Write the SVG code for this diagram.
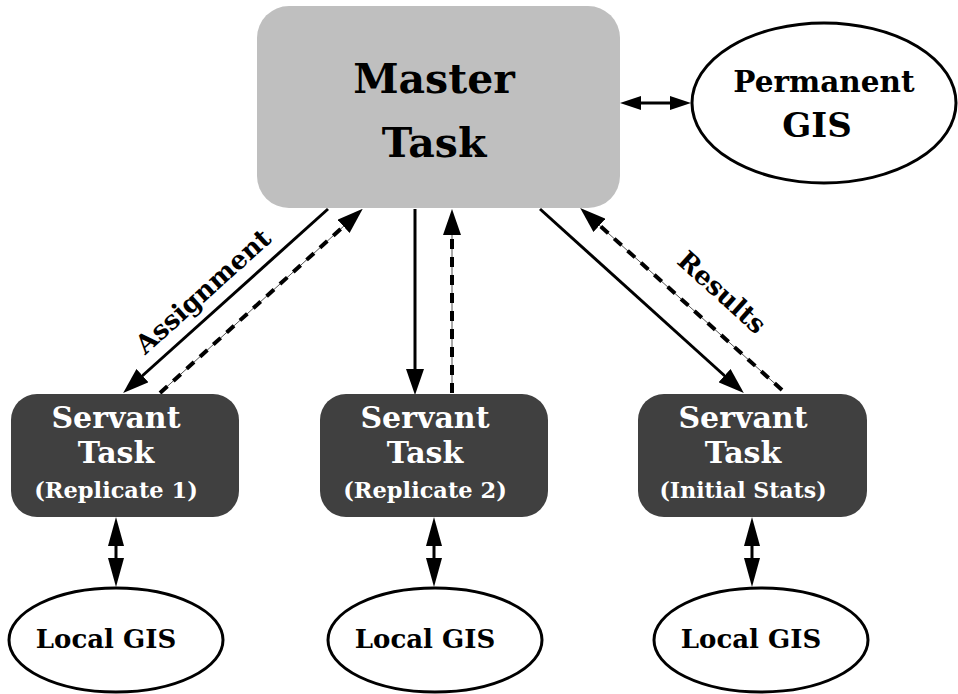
<svg xmlns="http://www.w3.org/2000/svg" width="958" height="694" viewBox="0 0 958 694">
  <style>
    text { font-family: "DejaVu Serif", "Liberation Serif", serif; font-weight: bold; text-anchor: middle; }
    .master { fill: #bfbfbf; }
    .servant { fill: #404040; }
    .store { fill: #ffffff; stroke: #000000; stroke-width: 3; }
    .light { fill: #ffffff; }
    .dark { fill: #000000; }
    .solid { stroke: #000000; stroke-width: 3; fill: none; }
    .core { stroke: #555555; stroke-width: 1; fill: none; }
    .dash { stroke: #000000; stroke-width: 4; stroke-dasharray: 10 8; fill: none; }
  </style>
  <defs>
    <!-- large head for task-to-task links -->
    <marker id="head" markerUnits="userSpaceOnUse" viewBox="0 0 26 18" markerWidth="26" markerHeight="18" refX="2" refY="9" orient="auto">
      <path d="M0,0 L26,9 L0,18 z" fill="#000"/>
    </marker>
    <!-- head for task-to-GIS links -->
    <marker id="headV" markerUnits="userSpaceOnUse" viewBox="0 0 29 16" markerWidth="29" markerHeight="16" refX="2" refY="8" orient="auto-start-reverse">
      <path d="M0,0 L29,8 L0,16 z" fill="#000"/>
    </marker>
    <!-- head for master-to-permanent link -->
    <marker id="headS" markerUnits="userSpaceOnUse" viewBox="0 0 21 14" markerWidth="21" markerHeight="14" refX="2" refY="7" orient="auto-start-reverse">
      <path d="M0,0 L21,7 L0,14 z" fill="#000"/>
    </marker>
  </defs>

  <g id="connectors">
    <!-- master <-> permanent GIS -->
    <line class="solid" x1="639" y1="103" x2="672" y2="103" marker-start="url(#headS)" marker-end="url(#headS)"/>

    <!-- assignment to replicate 1 -->
    <line class="solid" x1="328" y1="209" x2="141" y2="377" marker-end="url(#head)"/>
    <line class="core" x1="160" y1="393" x2="345" y2="225"/>
    <line class="dash" x1="160" y1="393" x2="345" y2="225" marker-end="url(#head)"/>

    <!-- replicate 2 -->
    <line class="solid" x1="415" y1="209" x2="415" y2="371" marker-end="url(#head)"/>
    <line class="core" x1="452" y1="393" x2="452" y2="233"/>
    <line class="dash" x1="452" y1="393" x2="452" y2="233" marker-end="url(#head)"/>

    <!-- initial stats / results -->
    <line class="solid" x1="540" y1="209" x2="726" y2="377" marker-end="url(#head)"/>
    <line class="core" x1="782" y1="390" x2="598" y2="224"/>
    <line class="dash" x1="782" y1="390" x2="598" y2="224" marker-end="url(#head)"/>

    <!-- servants <-> local GIS -->
    <line class="solid" x1="116" y1="544" x2="116" y2="560" marker-start="url(#headV)" marker-end="url(#headV)"/>
    <line class="solid" x1="434" y1="544" x2="434" y2="560" marker-start="url(#headV)" marker-end="url(#headV)"/>
    <line class="solid" x1="752" y1="544" x2="752" y2="560" marker-start="url(#headV)" marker-end="url(#headV)"/>

    <text class="dark" font-size="26" transform="translate(209,298) rotate(-42)">Assignment</text>
    <text class="dark" font-size="26" transform="translate(716,299) rotate(42)">Results</text>
  </g>

  <g id="master-task">
    <rect class="master" x="257" y="6" width="363" height="202" rx="32" ry="32"/>
    <text class="dark" x="434" y="93" font-size="41">Master</text>
    <text class="dark" x="434" y="157" font-size="41">Task</text>
  </g>

  <g id="permanent-gis">
    <ellipse class="store" cx="824" cy="103" rx="132" ry="80"/>
    <text class="dark" x="824" y="92" font-size="29.5">Permanent</text>
    <text class="dark" x="817" y="137" font-size="34">GIS</text>
  </g>

  <g id="servant-1">
    <rect class="servant" x="11" y="394" width="228" height="123" rx="26" ry="26"/>
    <text class="light" x="116" y="428" font-size="30">Servant</text>
    <text class="light" x="116" y="463" font-size="30">Task</text>
    <text class="light" x="116" y="498" font-size="22.5">(Replicate 1)</text>
  </g>

  <g id="servant-2">
    <rect class="servant" x="320" y="394" width="228" height="123" rx="26" ry="26"/>
    <text class="light" x="425" y="428" font-size="30">Servant</text>
    <text class="light" x="425" y="463" font-size="30">Task</text>
    <text class="light" x="425" y="498" font-size="22.5">(Replicate 2)</text>
  </g>

  <g id="servant-3">
    <rect class="servant" x="638" y="394" width="229" height="123" rx="26" ry="26"/>
    <text class="light" x="743" y="428" font-size="30">Servant</text>
    <text class="light" x="743" y="463" font-size="30">Task</text>
    <text class="light" x="743" y="498" font-size="22">(Initial Stats)</text>
  </g>

  <g id="local-gis-1">
    <ellipse class="store" cx="116" cy="640" rx="107" ry="52"/>
    <text class="dark" x="106" y="648" font-size="26">Local GIS</text>
  </g>

  <g id="local-gis-2">
    <ellipse class="store" cx="435" cy="640" rx="107" ry="52"/>
    <text class="dark" x="425" y="648" font-size="26">Local GIS</text>
  </g>

  <g id="local-gis-3">
    <ellipse class="store" cx="761" cy="640" rx="107" ry="52"/>
    <text class="dark" x="751" y="648" font-size="26">Local GIS</text>
  </g>
</svg>
